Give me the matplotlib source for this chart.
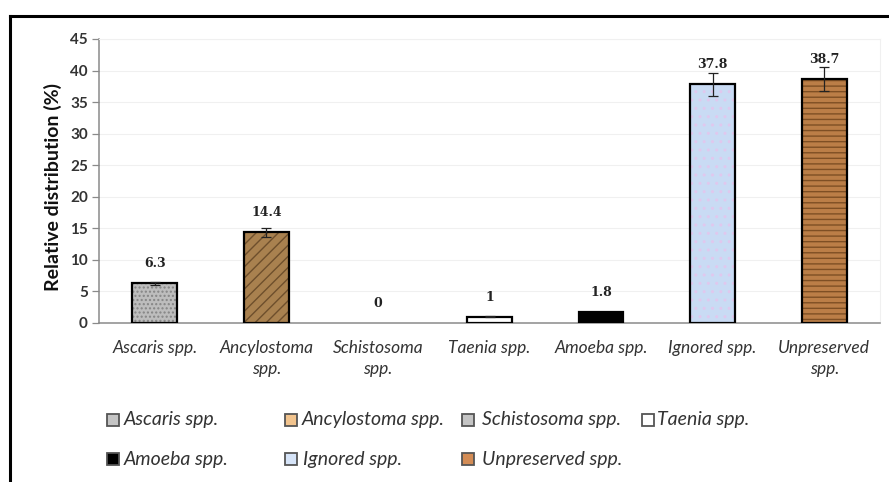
import matplotlib
matplotlib.use("Agg")
import matplotlib.pyplot as plt
from matplotlib.lines import Line2D
from matplotlib.patches import Rectangle

categories = ["Ascaris spp.", "Ancylostoma spp.", "Schistosoma spp.", "Taenia spp.",
              "Amoeba spp.", "Ignored spp.", "Unpreserved spp."]
tick_labels = ["Ascaris spp.", "Ancylostoma\nspp.", "Schistosoma\nspp.", "Taenia spp.",
               "Amoeba spp.", "Ignored spp.", "Unpreserved\nspp."]
values = [6.3, 14.4, 0, 1, 1.8, 37.8, 38.7]
errors = [0.2, 0.7, 0, 0.1, 0, 1.8, 1.9]
value_labels = ["6.3", "14.4", "0", "1", "1.8", "37.8", "38.7"]

# bar fill, hatch colour, hatch pattern (stand-ins for the picture textures)
bar_colors = ["#bdbdbd", "#a9814f", "#bdbdbd", "#ffffff", "#000000", "#c9dbf4", "#bb7e47"]
hatch_colors = ["#858585", "#6e4f2c", "#858585", "#ffffff", "#000000", "#e0c8ee", "#7e4f24"]
hatches = ["....", "///", "", "", "", "..", "---"]
legend_colors = ["#c4c4c4", "#f2c48e", "#c4c4c4", "#ffffff", "#000000", "#d6e4f8", "#d38c55"]

W, H = 889, 482
fig = plt.figure(figsize=(W / 100, H / 100), dpi=100)
ax = fig.add_axes([99 / W, 1 - 323 / H, (880 - 99) / W, (323 - 39) / H])

x = list(range(len(categories)))
ax.bar(x, values, width=0.4, color=bar_colors, edgecolor=hatch_colors,
       hatch=hatches, linewidth=0, zorder=2)
edge_w = [0 if v == 0 else 1.6 for v in values]
ax.bar(x, values, width=0.4, fill=False, edgecolor="black", linewidth=edge_w, zorder=3)

# error bars only where there is a spread
ex = [xi for xi, e in zip(x, errors) if e > 0]
ev = [v for v, e in zip(values, errors) if e > 0]
ee = [e for e in errors if e > 0]
ax.errorbar(ex, ev, yerr=ee, fmt="none", ecolor="#222222", elinewidth=0.9,
            capsize=3.5, capthick=0.9, zorder=4)

for xi, v, lab in zip(x, values, value_labels):
    ax.annotate(lab, (xi, v), xytext=(0, 14), textcoords="offset points",
                ha="center", va="center", fontsize=9, fontweight="bold",
                family="DejaVu Serif", color="#222222")

ax.set_xlim(-0.5, len(categories) - 0.5)
ax.set_ylim(0, 45)
ax.set_yticks(range(0, 46, 5))
ax.yaxis.grid(True, color="#f0f0f0", linewidth=0.8, zorder=0)
ax.set_axisbelow(True)

ax.set_xticks(x)
ax.set_xticklabels(tick_labels, fontsize=12.5, style="italic", family="Lato",
                   color="#333333", linespacing=1.4)
ax.tick_params(axis="x", length=0, pad=12)
ax.tick_params(axis="y", length=5, width=0.9, color="#8a8a8a", pad=3)
for t in ax.get_yticklabels():
    t.set_fontfamily("Lato")
    t.set_fontweight("bold")
    t.set_fontsize(11)
    t.set_color("#333333")

for side in ["left", "bottom"]:
    ax.spines[side].set_color("#8a8a8a")
    ax.spines[side].set_linewidth(1.1)
for side in ["top", "right"]:
    ax.spines[side].set_color("#f0f0f0")
    ax.spines[side].set_linewidth(0.8)

fig.text(53 / W, 1 - 187 / H, "Relative distribution (%)", rotation=90,
         ha="center", va="center", fontsize=14, fontweight="bold",
         family="Lato", color="#111111")

# legend laid out by hand: two rows, markers at fixed pixel columns
legend_x = [107, 285, 462, 642, 107, 285, 462]
legend_y = [420, 420, 420, 420, 459, 459, 459]
text_gap = [17, 17, 20, 15, 17, 18, 20]
for lx, ly, gap, col, lab in zip(legend_x, legend_y, text_gap, legend_colors, categories):
    fig.add_artist(Rectangle((lx / W, 1 - (ly + 6) / H), 12 / W, 12 / H,
                             transform=fig.transFigure, facecolor=col,
                             edgecolor="#555555", linewidth=1.3))
    fig.text((lx + gap) / W, 1 - ly / H, lab, ha="left", va="center",
             fontsize=14, style="italic", family="Lato", color="#333333")

# outer frame (top and left edges visible)
fig.add_artist(Line2D([10 / W, 1], [1 - 16 / H, 1 - 16 / H], transform=fig.transFigure,
                      color="black", linewidth=2.2))
fig.add_artist(Line2D([10 / W, 10 / W], [0, 1 - 16 / H], transform=fig.transFigure,
                      color="black", linewidth=2.2))

fig.savefig("out.png", dpi=100)
